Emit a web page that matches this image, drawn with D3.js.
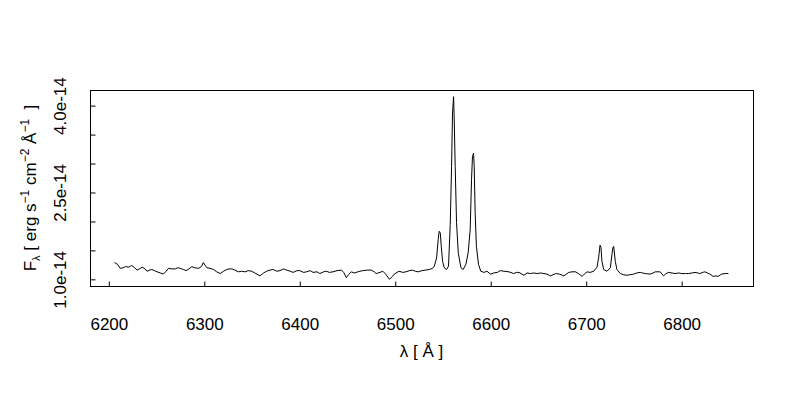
<!DOCTYPE html>
<html>
<head>
<meta charset="utf-8">
<script src="https://cdn.jsdelivr.net/npm/d3@7"></script>
<style>
    body { margin: 0; background: #fff; }
    svg text { font-family: "Liberation Sans", Arial, Helvetica, sans-serif; fill: #000; }
</style>
</head>
<body>
<svg id="chart" width="800" height="400"></svg>
<script>
// wavelength in Angstrom
const wavelength = [
    6206, 6209, 6212, 6215, 6217.5, 6221, 6224, 6227, 6229.6, 6232, 6235, 6238, 6240, 6243, 6245, 6248,
    6250.5, 6254, 6257, 6260, 6262.6, 6266, 6269.6, 6272, 6274.8, 6278, 6281, 6284, 6287, 6290, 6294, 6297,
    6299, 6301, 6302.7, 6306, 6309.6, 6313, 6316.6, 6320, 6323.5, 6326, 6328.8, 6332, 6335.7, 6339, 6342.6, 6346,
    6349.6, 6354, 6358.3, 6362, 6365.3, 6369, 6372.2, 6376, 6379.2, 6383, 6386.2, 6390, 6393, 6397, 6400, 6404,
    6407, 6411, 6414, 6418, 6421, 6425, 6428, 6431, 6434.8, 6439, 6443.6, 6446, 6448.8, 6451, 6454, 6457,
    6459, 6463, 6466, 6471, 6475, 6478, 6480, 6484, 6487, 6490, 6494, 6497, 6499, 6502, 6504, 6508,
    6511, 6515, 6518, 6521, 6524, 6528, 6532, 6535.7, 6539, 6541, 6543.3, 6545, 6546, 6547.2, 6548.2, 6549.6,
    6551.3, 6553.8, 6555.8, 6557.6, 6559, 6560, 6561.1, 6561.8, 6562.8, 6564.2, 6566, 6568.8, 6571.2, 6574, 6576.4, 6578.5,
    6579.9, 6580.9, 6582, 6582.7, 6583.7, 6585, 6587.2, 6589.6, 6593, 6596, 6600, 6603, 6607, 6610, 6614, 6619,
    6624, 6627, 6629.6, 6634.8, 6638, 6641.8, 6645, 6648.7, 6652, 6655.7, 6659, 6662.7, 6668, 6672, 6676.6, 6681.8,
    6685, 6688.8, 6692, 6695.7, 6698, 6701, 6704, 6707.9, 6711.3, 6713, 6714.5, 6715.5, 6716.5, 6718.3, 6721.8, 6725.3,
    6727, 6728, 6728.8, 6730.5, 6732.2, 6735.7, 6739, 6742.6, 6746, 6749.6, 6753, 6756.6, 6759, 6761.8, 6767, 6770,
    6772.3, 6777.5, 6781, 6783, 6786, 6790, 6793, 6797, 6800, 6804, 6807, 6811, 6814, 6817, 6819, 6822,
    6824.4, 6827, 6829.6, 6833, 6836, 6838, 6841.7, 6845.3, 6849
]

// flux in units of 1e-14 erg s-1 cm-2 A-1
const fluxE14 = [
    1.29, 1.26, 1.19, 1.20, 1.22, 1.21, 1.24, 1.20, 1.16, 1.18, 1.21, 1.18, 1.14, 1.16, 1.17, 1.15,
    1.13, 1.11, 1.09, 1.14, 1.19, 1.18, 1.18, 1.20, 1.19, 1.17, 1.15, 1.18, 1.22, 1.20, 1.19, 1.22,
    1.29, 1.24, 1.20, 1.19, 1.17, 1.13, 1.10, 1.14, 1.17, 1.18, 1.18, 1.16, 1.13, 1.14, 1.13, 1.15,
    1.14, 1.10, 1.06, 1.11, 1.14, 1.16, 1.17, 1.14, 1.15, 1.18, 1.16, 1.14, 1.12, 1.15, 1.15, 1.12,
    1.13, 1.15, 1.12, 1.13, 1.10, 1.13, 1.14, 1.12, 1.13, 1.15, 1.16, 1.12, 1.03, 1.08, 1.13, 1.11,
    1.12, 1.14, 1.15, 1.16, 1.16, 1.13, 1.10, 1.12, 1.14, 1.09, 1.00, 1.05, 1.09, 1.12, 1.14, 1.12,
    1.13, 1.15, 1.16, 1.14, 1.13, 1.15, 1.16, 1.17, 1.19, 1.23, 1.37, 1.69, 1.83, 1.80, 1.57, 1.31,
    1.20, 1.17, 1.23, 1.95, 2.95, 3.87, 4.155, 3.75, 2.95, 1.98, 1.46, 1.20, 1.17, 1.26, 1.46, 1.86,
    2.72, 3.12, 3.18, 2.95, 2.15, 1.57, 1.26, 1.14, 1.12, 1.14, 1.09, 1.11, 1.12, 1.15, 1.14, 1.13,
    1.10, 1.12, 1.12, 1.07, 1.11, 1.10, 1.11, 1.10, 1.11, 1.10, 1.09, 1.06, 1.10, 1.09, 1.06, 1.12,
    1.13, 1.13, 1.10, 1.05, 1.09, 1.13, 1.12, 1.14, 1.21, 1.37, 1.59, 1.55, 1.31, 1.17, 1.14, 1.20,
    1.43, 1.55, 1.57, 1.31, 1.17, 1.10, 1.08, 1.07, 1.08, 1.09, 1.11, 1.12, 1.11, 1.10, 1.09, 1.11,
    1.13, 1.13, 1.06, 1.09, 1.12, 1.11, 1.10, 1.11, 1.10, 1.10, 1.10, 1.11, 1.12, 1.11, 1.10, 1.12,
    1.13, 1.11, 1.09, 1.05, 1.06, 1.05, 1.09, 1.10, 1.10
]

const xTicks = [ 6200, 6300, 6400, 6500, 6600, 6700, 6800 ]
const yTicks = [ 1.0, 1.5, 2.0, 2.5, 3.0, 3.5, 4.0 ]
const yTickLabels = [ '1.0e-14', '', '', '2.5e-14', '', '', '4.0e-14' ]

const box = { left: 90, right: 753, top: 90, bottom: 286 },
      tickLen = 5,
      fontSize = 17

const svg = d3.select( '#chart' )

// R style axes: data range padded by 4% on each side
const pad = ( ext ) => {
    const d = ( ext[1] - ext[0] ) * 0.04
    return [ ext[0] - d, ext[1] + d ]
}

const x = d3.scaleLinear()
    .domain( pad( d3.extent( wavelength ) ) )
    .range( [ box.left, box.right ] )

const y = d3.scaleLinear()
    .domain( [ 0.885, 4.27 ] )
    .range( [ box.bottom, box.top ] )

const data = wavelength.map( ( w, i ) => [ w, fluxE14[i] ] )

const line = d3.line()
    .x( d => x( d[0] ) )
    .y( d => y( d[1] ) )

svg.append( 'path' )
    .datum( data )
    .attr( 'd', line )
    .attr( 'fill', 'none' )
    .attr( 'stroke', '#000' )
    .attr( 'stroke-width', 1 )
    .attr( 'stroke-linejoin', 'round' )

// frame
svg.append( 'rect' )
    .attr( 'x', box.left + 0.5 )
    .attr( 'y', box.top + 0.5 )
    .attr( 'width', box.right - box.left )
    .attr( 'height', box.bottom - box.top )
    .attr( 'fill', 'none' )
    .attr( 'stroke', '#000' )
    .attr( 'stroke-width', 1 )

// x axis, ticks pointing inward
const xAxis = svg.append( 'g' )
    .attr( 'transform', `translate(0,${ box.bottom + 0.5 })` )
    .call( d3.axisBottom( x ).tickValues( xTicks ).tickSize( -tickLen ).tickFormat( d3.format( 'd' ) ) )

xAxis.select( '.domain' ).remove()
xAxis.selectAll( 'line' ).attr( 'stroke', '#000' )
xAxis.selectAll( 'text' ).attr( 'font-size', fontSize ).attr( 'dy', null ).attr( 'y', 43 )

// y axis, rotated labels
const yAxis = svg.append( 'g' )
    .attr( 'transform', `translate(${ box.left + 0.5 },0)` )
    .call( d3.axisLeft( y ).tickValues( yTicks ).tickSize( -tickLen ).tickFormat( ( d, i ) => yTickLabels[i] ) )

yAxis.select( '.domain' ).remove()
yAxis.selectAll( 'line' ).attr( 'stroke', '#000' )
yAxis.selectAll( 'text' )
    .attr( 'font-size', fontSize )
    .attr( 'x', null ).attr( 'dy', null )
    .attr( 'transform', 'translate(-25,0) rotate(-90)' )
    .attr( 'text-anchor', 'middle' )

// axis titles
svg.append( 'text' )
    .attr( 'x', ( box.left + box.right ) / 2 )
    .attr( 'y', 357 )
    .attr( 'text-anchor', 'middle' )
    .attr( 'font-size', fontSize )
    .text( 'λ [ Å ]' )

const yTitle = svg.append( 'text' )
    .attr( 'transform', `translate(36,${ ( box.top + box.bottom ) / 2 }) rotate(-90)` )
    .attr( 'text-anchor', 'middle' )
    .attr( 'font-size', fontSize )

const parts = [
    [ 'F', 0 ], [ 'λ', 4, 11 ], [ ' [ erg s', -4 ], [ '−1', -7, 12 ],
    [ ' cm', 7 ], [ '−2', -7, 12 ], [ ' Å', 7 ], [ '−1', -7, 12 ], [ '  ]', 7 ]
]
parts.forEach( p => {
    yTitle.append( 'tspan' )
        .attr( 'dy', p[1] )
        .attr( 'font-size', p[2] || fontSize )
        .attr( 'xml:space', 'preserve' )
        .text( p[0] )
} )
</script>
</body>
</html>
